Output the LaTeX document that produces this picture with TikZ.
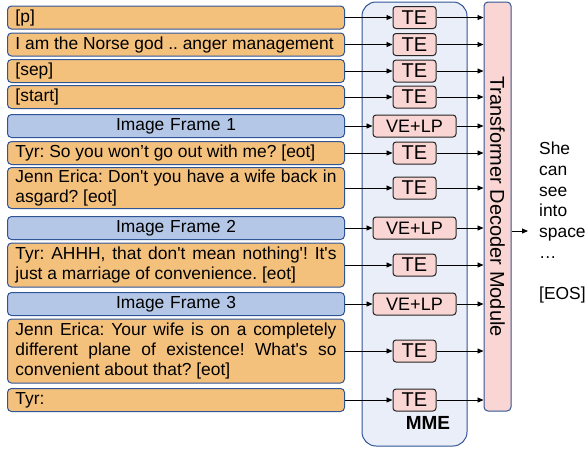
\documentclass[tikz,border=0pt]{standalone}
\usepackage{fontspec}
\setmainfont{Liberation Sans}
\usetikzlibrary{positioning,arrows.meta}
\definecolor{sand}{HTML}{F4C17D}
\definecolor{frameblue}{HTML}{B4C7E7}
\definecolor{edgeblue}{HTML}{2F5597}
\definecolor{mist}{HTML}{E9EEF8}
\definecolor{blush}{HTML}{F9D5D3}
\newcommand{\sq}{\textquotesingle}
\frenchspacing

\begin{document}
\begin{tikzpicture}[x=1pt,y=-1pt,
  every node/.style={font=\fontsize{17.4}{20}\selectfont},
  utt/.style={draw=edgeblue,line width=1pt,rounded corners=4pt,fill=sand,text width=321pt,inner xsep=8pt,inner ysep=1pt,align=justify,anchor=west,minimum height=23pt},
  frm/.style={utt,fill=frameblue,align=center},
  enc/.style={draw=black!85,line width=1pt,rounded corners=3pt,fill=blush,minimum height=22pt,minimum width=43pt,inner xsep=0pt,font=\fontsize{20}{22}\selectfont},
  vlp/.style={enc,minimum width=83pt,font=\fontsize{18}{20}\selectfont},
  feed/.style={-{Triangle[length=6pt,width=5pt]},line width=0.9pt}]
  \useasboundingbox (0,0) rectangle (586,448);
  % encoder block and decoder
  \node[draw=edgeblue,line width=1pt,fill=mist,rounded corners=14pt,minimum width=105pt,minimum height=444pt] (mme) at (414.5,224) {};
  \node[font=\bfseries\fontsize{19}{22}\selectfont] (mmelab) at (428,423) {MME};
  \node[draw=edgeblue,line width=1pt,fill=blush,rounded corners=4pt,rotate=-90,minimum width=409pt,minimum height=27pt,inner sep=0pt,font=\fontsize{20}{22}\selectfont] (dec) at (497.5,206.5) {Transformer Decoder Module};

  % context rows
  \node[utt] (pad) at (7,17.5) {[p]};
  \node[utt] (persona) at (7,44.5) {I am the Norse god .. anger management};
  \node[utt] (sep) at (7,71) {[sep]};
  \node[utt] (start) at (7,97) {[start]};
  \node[frm] (img1) at (7,126) {Image Frame 1};
  \node[utt] (tyr1) at (7,153) {Tyr: So you won’t go out with me? [eot]};
  \node[utt,minimum height=41pt] (jenn1) at (7,188) {Jenn Erica: Don\sq t you have a wife back in\linebreak asgard? [eot]};
  \node[frm] (img2) at (7,228) {Image Frame 2};
  \node[utt,minimum height=44pt] (tyr2) at (7,265) {Tyr: AHHH, that don\sq t mean nothing\sq! It\sq s\linebreak just a marriage of convenience. [eot]};
  \node[frm] (img3) at (7,304) {Image Frame 3};
  \node[utt,minimum height=64pt] (jenn2) at (7,351) {Jenn Erica: Your wife is on a completely\linebreak different plane of existence! What\sq s so\linebreak convenient about that? [eot]};
  \node[utt] (tyr3) at (7,400) {Tyr:};

  % encoders
  \node[enc] (te1) at (pad -| mme) {TE};
  \node[enc] (te2) at (persona -| mme) {TE};
  \node[enc] (te3) at (sep -| mme) {TE};
  \node[enc] (te4) at (start -| mme) {TE};
  \node[vlp] (ve1) at (img1 -| mme) {VE+LP};
  \node[enc] (te5) at (tyr1 -| mme) {TE};
  \node[enc] (te6) at (jenn1 -| mme) {TE};
  \node[vlp] (ve2) at (img2 -| mme) {VE+LP};
  \node[enc] (te7) at (tyr2 -| mme) {TE};
  \node[vlp] (ve3) at (img3 -| mme) {VE+LP};
  \node[enc] (te8) at (jenn2 -| mme) {TE};
  \node[enc] (te9) at (tyr3 -| mme) {TE};

  \foreach \src/\enc in {pad/te1,persona/te2,sep/te3,start/te4,img1/ve1,tyr1/te5,jenn1/te6,img2/ve2,tyr2/te7,img3/ve3,jenn2/te8,tyr3/te9}{
    \draw[feed] (\src) -- (\enc);
    \draw[feed] (\enc) -- (\enc -| dec.south);
  }

  % generated response
  \coordinate (tip) at (528,231);
  \draw[feed] (tip -| dec.north) -- (tip);
  \node[anchor=north west,inner sep=0pt,align=left,font=\fontsize{17.4}{20.7}\selectfont] (reply) at (539,142) {She\\can\\see\\into\\space\\…\\[20.7pt][EOS]};
\end{tikzpicture}
\end{document}
